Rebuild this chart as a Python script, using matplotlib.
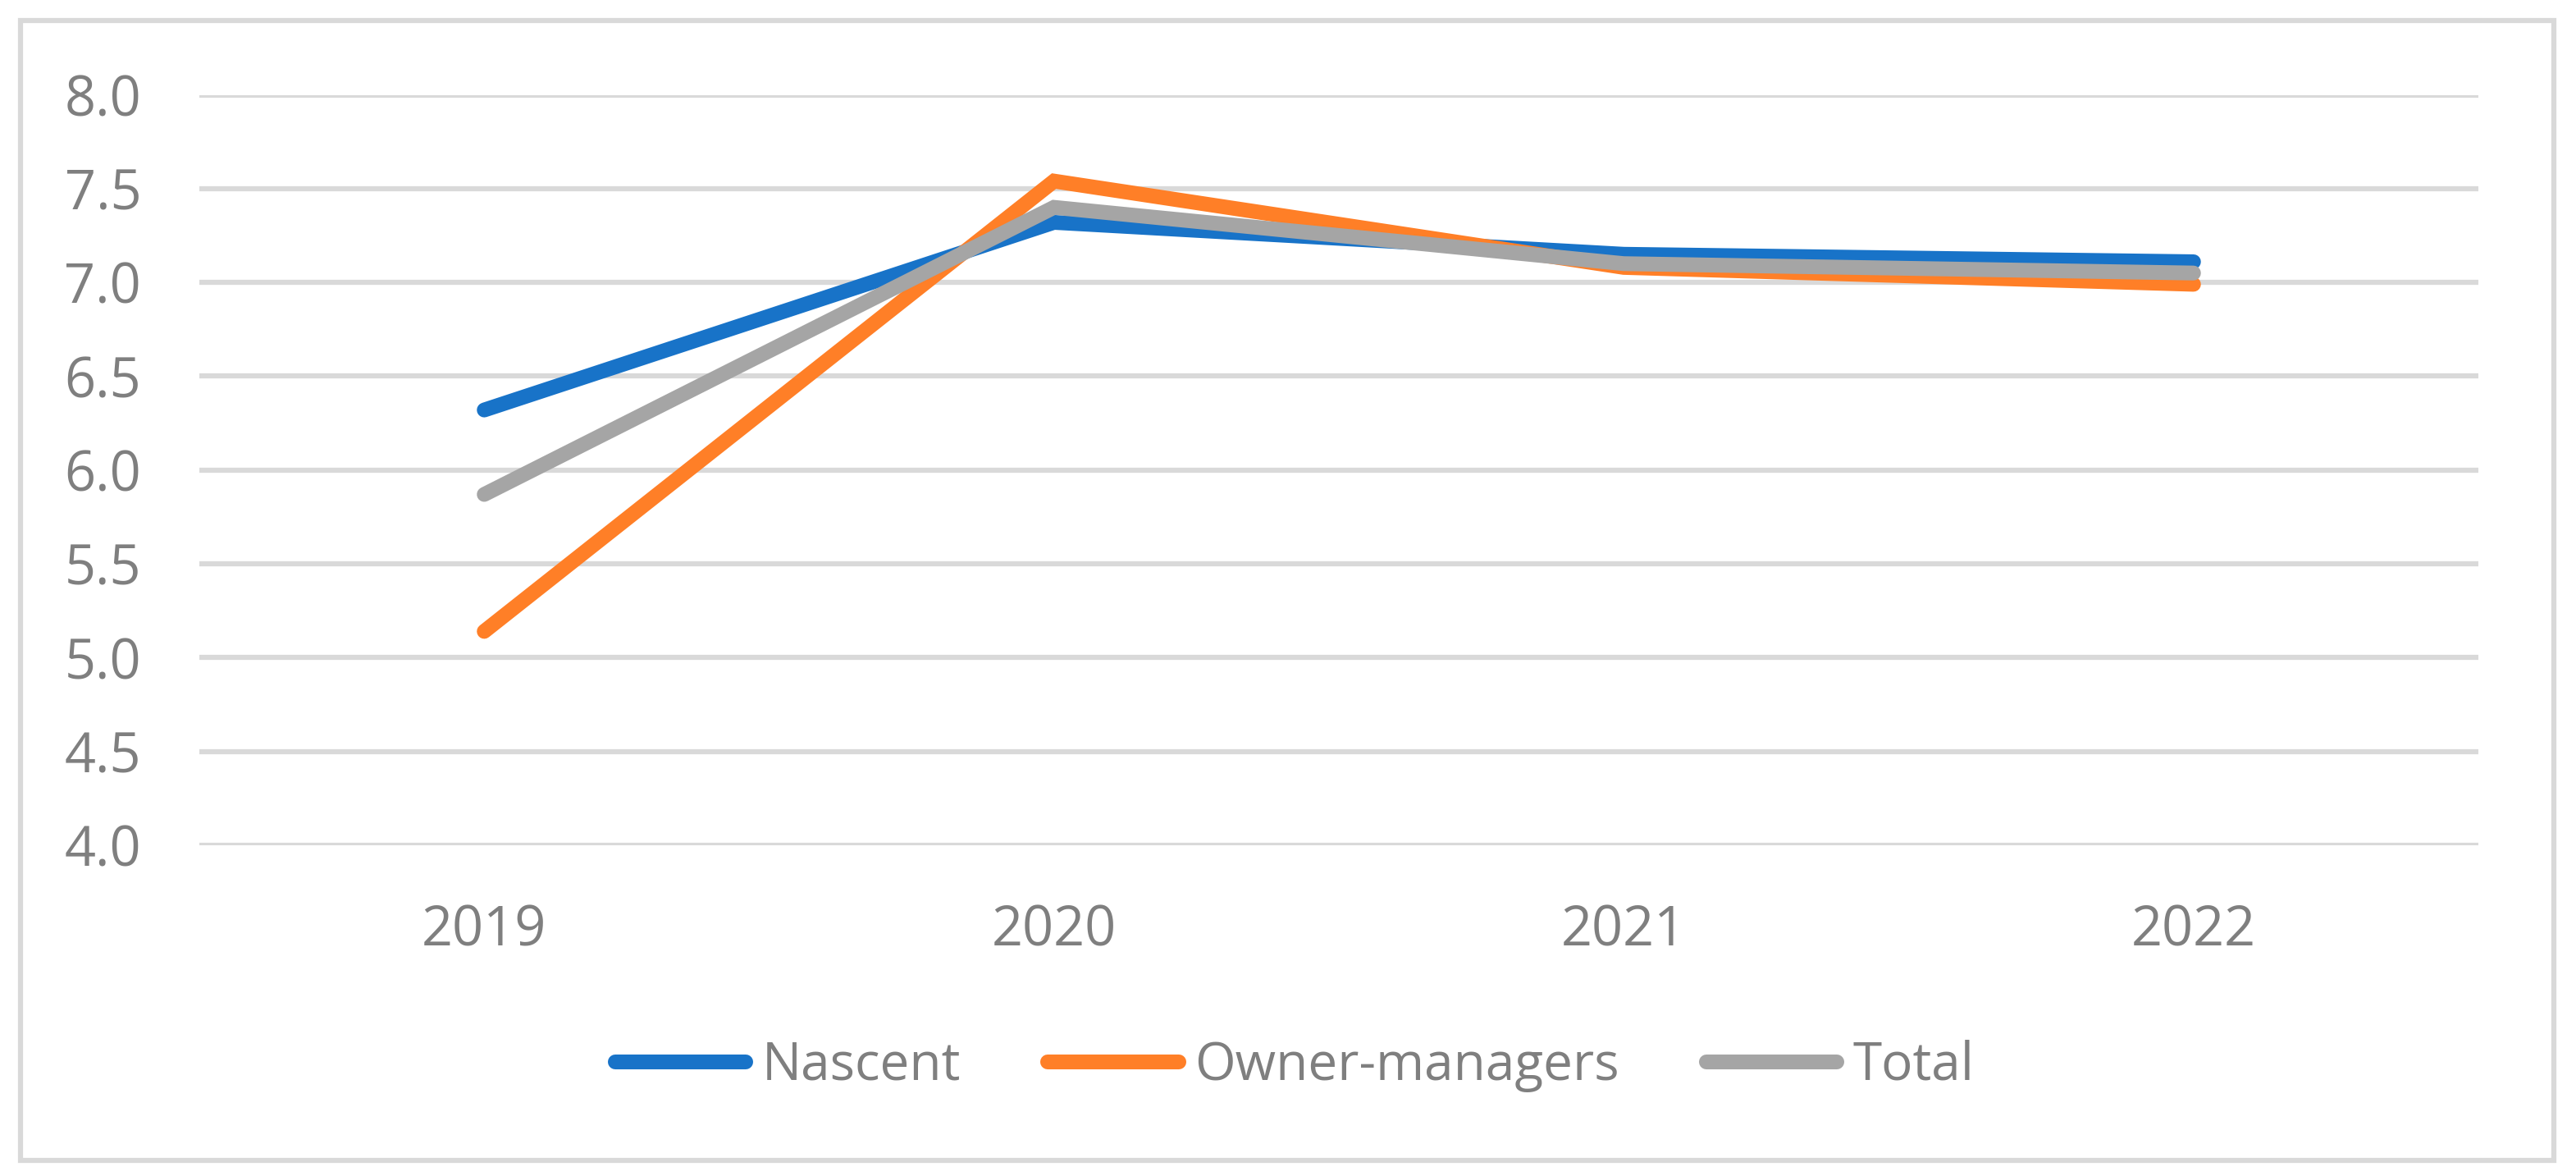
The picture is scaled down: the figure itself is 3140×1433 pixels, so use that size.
import matplotlib.pyplot as plt
from matplotlib.patches import Rectangle

years = ["2019", "2020", "2021", "2022"]
nascent = [6.32, 7.32, 7.15, 7.11]
owner_managers = [5.14, 7.54, 7.08, 6.99]
total = [5.87, 7.40, 7.10, 7.05]

series_names = ["Nascent", "Owner-managers", "Total"]
series_colors = ["#1873C8", "#FF7F27", "#A5A5A5"]

plt.rcParams['font.family'] = ['Open Sans', 'DejaVu Sans']

W, H, DPI = 3140, 1433, 100
fig = plt.figure(figsize=(W / DPI, H / DPI), dpi=DPI)
ax = fig.add_axes([243 / W, 1 - 1030 / H, (3021 - 243) / W, (1030 - 115.5) / H])

x = range(len(years))
for vals, name, col in zip([nascent, owner_managers, total], series_names, series_colors):
    ax.plot(x, vals, color=col, lw=13, solid_capstyle='round',
            solid_joinstyle='miter', label=name)

ax.set_xlim(-0.5, len(years) - 0.5)
ax.set_ylim(4.0, 8.0)
ax.set_yticks([4.0 + 0.5 * i for i in range(9)])
ax.set_yticklabels([f"{4.0 + 0.5 * i:.1f}" for i in range(9)])
ax.set_xticks(list(x))
ax.set_xticklabels(years)

ax.grid(axis='y', color='#D9D9D9', lw=4.5)
ax.set_axisbelow(True)
for s in ax.spines.values():
    s.set_visible(False)
ax.tick_params(axis='both', length=0, labelsize=48, colors='#7F7F7F', pad=51)

leg = fig.legend(loc='center', bbox_to_anchor=(1578 / W, 1 - 1299 / H), ncol=3,
                 frameon=False, fontsize=46, handlelength=2.5, handletextpad=0.3,
                 columnspacing=1.66, labelcolor='#7F7F7F')
for line in leg.get_lines():
    line.set_solid_capstyle('round')

# outer chart border
fig.patches.append(Rectangle((24.5 / W, 1 - 1414 / H), (3112.5 - 24.5) / W, (1414 - 25) / H,
                             transform=fig.transFigure, fill=False,
                             edgecolor='#D9D9D9', lw=4.5))

fig.savefig("out.png", dpi=DPI)
